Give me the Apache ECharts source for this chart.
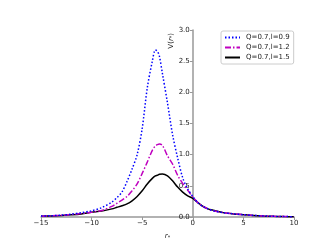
<!DOCTYPE html>
<html><head><meta charset="utf-8">
<script src="https://cdn.jsdelivr.net/npm/echarts@6/dist/echarts.min.js"></script>
<style>html,body{margin:0;padding:0;background:#fff}#c{width:327px;height:245px}</style>
</head><body><div id="c"></div>
<script>
var xs = [-15,-14,-13,-12,-11,-10,-9,-8,-7.5,-7,-6.5,-6,-5.5,-5,-4.5,-4,-3.7,-3.5,-3.3,-3,-2.5,-2,-1.5,-1,-0.5,0,0.5,1,1.5,2,3,4,5,6,7,8,9,10];
var vBlue = [0.015,0.02,0.03,0.045,0.07,0.10,0.15,0.24,0.31,0.40,0.57,0.77,1.0,1.42,2.07,2.5,2.68,2.66,2.58,2.3,1.83,1.32,0.95,0.63,0.45,0.33,0.23,0.17,0.13,0.10,0.07,0.05,0.037,0.025,0.017,0.011,0.007,0.005];
var vMag = [0.012,0.018,0.027,0.04,0.055,0.075,0.105,0.17,0.22,0.27,0.33,0.42,0.53,0.70,0.88,1.07,1.14,1.16,1.17,1.15,0.98,0.85,0.67,0.54,0.43,0.32,0.23,0.17,0.13,0.10,0.07,0.05,0.037,0.025,0.017,0.011,0.007,0.005];
var vBlack = [0.012,0.017,0.025,0.035,0.05,0.075,0.095,0.13,0.155,0.18,0.21,0.26,0.33,0.42,0.53,0.62,0.66,0.67,0.685,0.69,0.66,0.58,0.48,0.40,0.34,0.30,0.23,0.17,0.13,0.11,0.07,0.05,0.037,0.025,0.017,0.011,0.007,0.005];
var names = ['Q=0.7,l=0.9','Q=0.7,l=1.2','Q=0.7,l=1.5'];
var xMin = -15, xMax = 10, yMin = 0, yMax = 3;

function pairs(v){ return xs.map(function(x,i){ return [x, v[i]]; }); }
var font = 'DejaVu Sans';
var W = 327, gl = 41, gr = 33;
var yAxisOffset = -((0 - xMin) / (xMax - xMin)) * (W - gl - gr);
var chart = echarts.init(document.getElementById('c'));
chart.setOption({
  animation:false,
  textStyle:{fontFamily:font},
  grid:{left:gl,right:gr,top:30,bottom:28},
  xAxis:{type:'value',min:xMin,max:xMax,interval:5,
    axisLine:{lineStyle:{color:'#999',width:1.5}},
    axisTick:{length:3,lineStyle:{color:'#999',width:1}},
    axisLabel:{color:'#222',fontSize:7,margin:3,fontFamily:font,formatter:function(v){return v<0?'\u2212'+(-v):''+v;}},
    splitLine:{show:false},
    name:'{i|r}{s|*}',nameLocation:'middle',nameGap:16,
    nameTextStyle:{rich:{i:{fontStyle:'italic',fontSize:7,color:'#222',fontFamily:font},s:{fontSize:5,color:'#222',verticalAlign:'bottom',fontFamily:font}}}
  },
  yAxis:{type:'value',min:yMin,max:yMax,interval:0.5,offset:yAxisOffset,
    axisLine:{onZero:false,lineStyle:{color:'#999',width:1.5}},
    axisTick:{length:3,lineStyle:{color:'#999',width:1}},
    axisLabel:{color:'#222',fontSize:7,margin:3,fontFamily:font,formatter:function(v){return v.toFixed(1);}},
    splitLine:{show:false}
  },
  legend:{orient:'vertical',left:221,top:31,itemWidth:15,itemHeight:8,itemGap:3,
    padding:[3,4,3,3],borderColor:'#ccc',borderWidth:1,borderRadius:2,
    itemStyle:{opacity:0},
    textStyle:{fontSize:7,color:'#222',fontFamily:font,padding:[0,0,0,1]},
    data:names},
  graphic:[{type:'text',left:168,top:33,rotation:Math.PI/2,
    style:{text:'{v|V(}{i|r}{s|*}{v|)}',rich:{v:{fontSize:7,fill:'#222',fontFamily:font},i:{fontSize:7,fontStyle:'italic',fill:'#222',fontFamily:font},s:{fontSize:5,fill:'#222',fontFamily:font}}}}],
  series:[
    {name:names[0],type:'line',data:pairs(vBlue),smooth:0.3,symbol:'none',lineStyle:{color:'#0000ff',width:1.5,type:[1.5,2]},itemStyle:{color:'#0000ff'},z:3},
    {name:names[1],type:'line',data:pairs(vMag),smooth:0.3,symbol:'none',lineStyle:{color:'#bf00bf',width:1.5,type:[6,2,1.5,2]},itemStyle:{color:'#bf00bf'},z:2},
    {name:names[2],type:'line',data:pairs(vBlack),smooth:0.3,symbol:'none',lineStyle:{color:'#000',width:1.5},itemStyle:{color:'#000'},z:1}
  ]
});
</script></body></html>
